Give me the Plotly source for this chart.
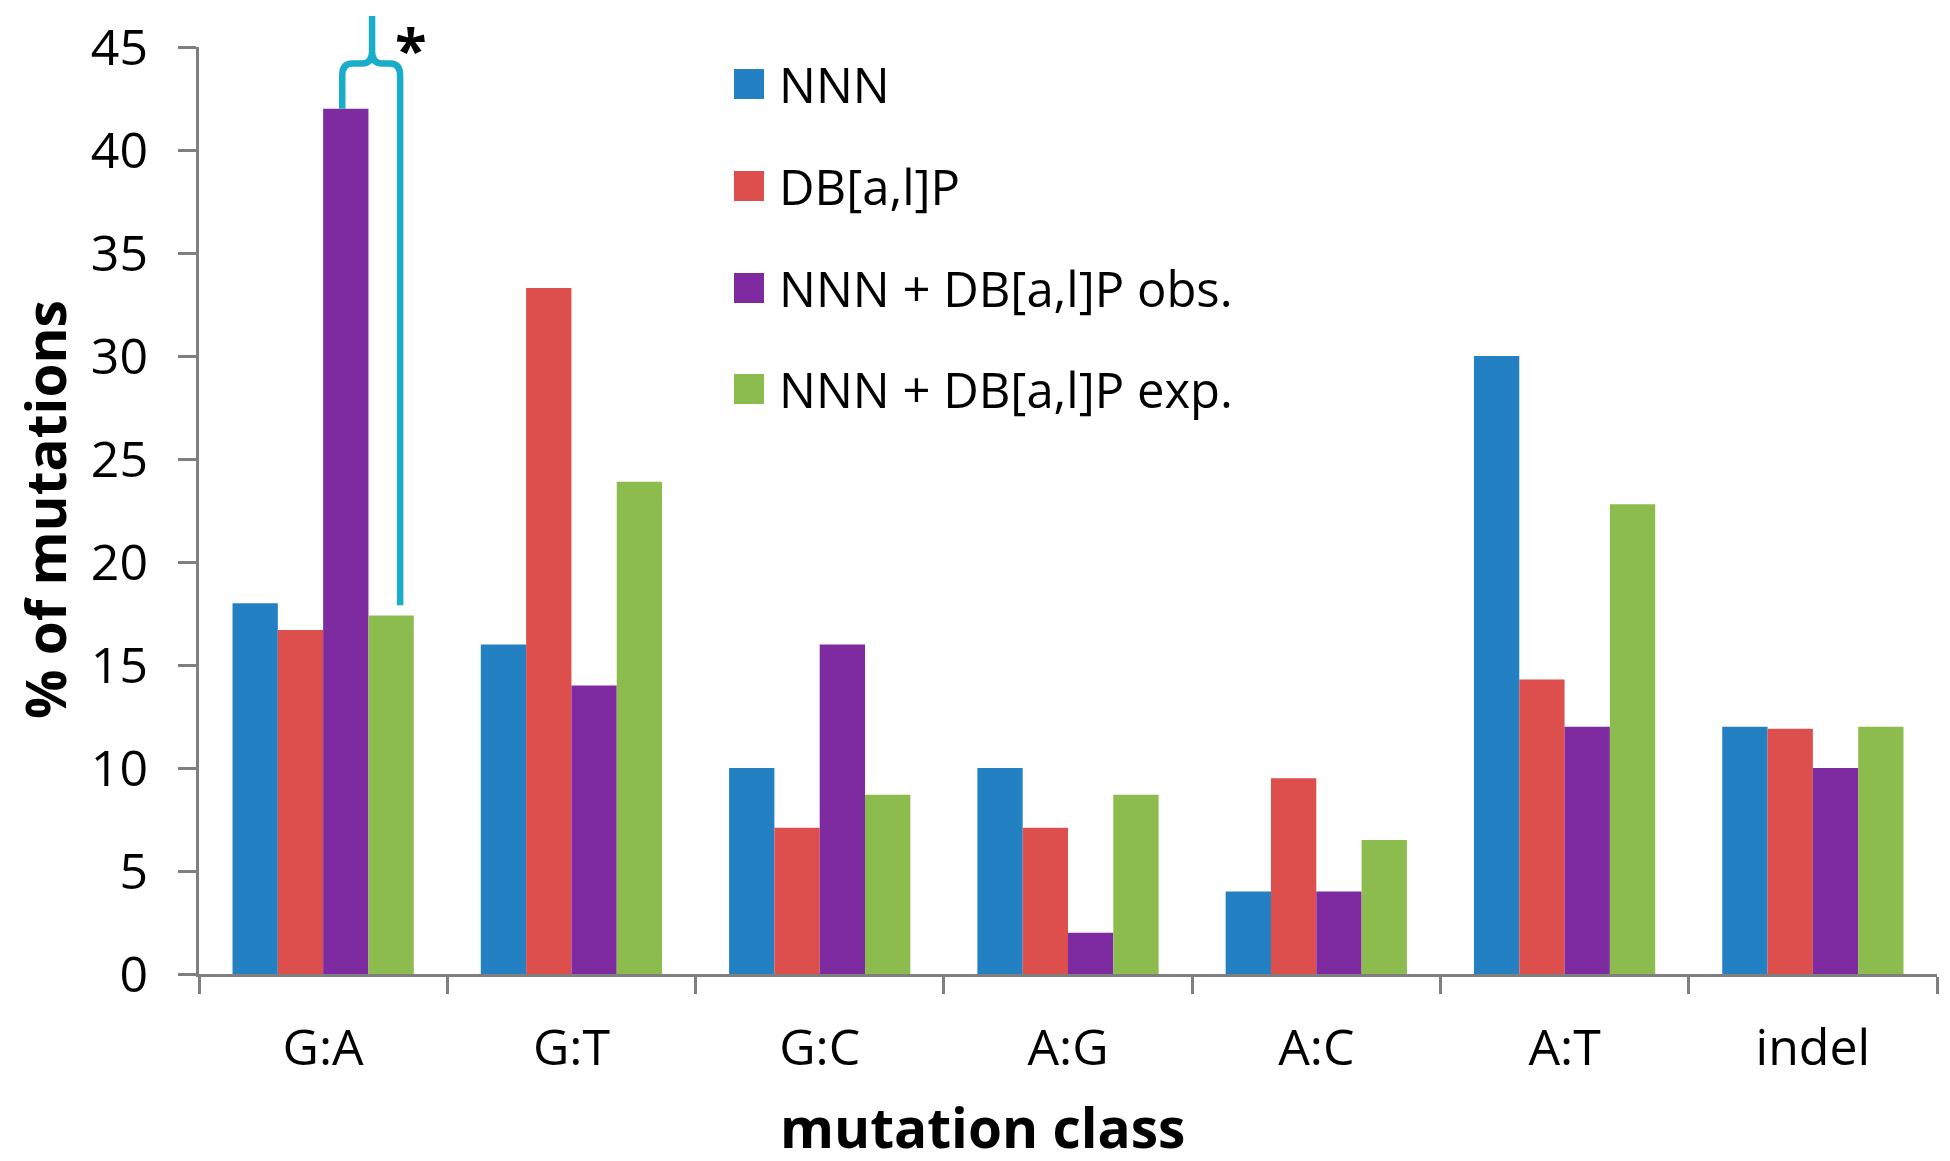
import plotly.graph_objects as go

# ---- data ----
categories = ["G:A", "G:T", "G:C", "A:G", "A:C", "A:T", "indel"]
series_names = ["NNN", "DB[a,l]P", "NNN + DB[a,l]P obs.", "NNN + DB[a,l]P exp."]
nnn = [18.0, 16.0, 10.0, 10.0, 4.0, 30.0, 12.0]
dbalp = [16.7, 33.3, 7.1, 7.1, 9.5, 14.3, 11.9]
combo_obs = [42.0, 14.0, 16.0, 2.0, 4.0, 12.0, 10.0]
combo_exp = [17.4, 23.9, 8.7, 8.7, 6.5, 22.8, 12.0]
colors = ["#2380C2", "#DD4F4C", "#7E2AA1", "#8CBB4E"]
y_ticks = [0, 5, 10, 15, 20, 25, 30, 35, 40, 45]

series = [nnn, dbalp, combo_obs, combo_exp]

# ---- layout geometry ----
W, H = 1950, 1161
OFF = 8  # page body margin offset of the figure on screen
ML, MR, MT, MB = 191, 21, 39, 195
PW, PH = W - ML - MR, H - MT - MB
YMAX = 45
FONT = "Open Sans"
AXC = "#7F7F7F"
BRACE_C = "#1AADC9"


def px(x):
    """screen x (px) -> paper x"""
    return (x - OFF - ML) / PW


def py(y):
    """screen y (px) -> paper y"""
    return (H - MB - (y - OFF)) / PH


fig = go.Figure()
for name, vals, col in zip(series_names, series, colors):
    fig.add_trace(go.Bar(x=categories, y=vals, name=name,
                         marker=dict(color=col, line=dict(width=0)),
                         showlegend=False))

# ---- significance brace between G:A obs and exp ----
gi = 0  # index of G:A
xl, xc, xr = gi + 0.077, gi + 0.197, gi + 0.31
yb_l = combo_obs[gi] / YMAX
yb_r = (combo_exp[gi] + 0.5) / YMAX
h = 44.2 / YMAX
top = 46.5 / YMAX
ry = 12 / PH
rx = 0.04
path = (f"M{xl},{yb_l} L{xl},{h-ry} Q{xl},{h} {xl+rx},{h} L{xc-rx},{h} "
        f"Q{xc},{h} {xc},{h+ry} L{xc},{top} "
        f"M{xc},{h+ry} Q{xc},{h} {xc+rx},{h} L{xr-rx},{h} "
        f"Q{xr},{h} {xr},{h-ry} L{xr},{yb_r}")
shapes = [dict(type="path", xref="x", yref="paper", path=path,
               line=dict(color=BRACE_C, width=6.5))]

annotations = [
    dict(x=gi + 0.355, y=py(OFF), xref="x", yref="paper", text="<b>*</b>",
         showarrow=False, borderpad=0,
         font=dict(family=FONT, size=58, color="black"),
         xanchor="center", yanchor="top"),
    # axis titles
    dict(x=px(44), y=py(510), xref="paper", yref="paper",
         text="<b>% of mutations</b>", textangle=-90, showarrow=False,
         borderpad=0, font=dict(family=FONT, size=55, color="black"),
         xanchor="center", yanchor="middle"),
    dict(x=px(982), y=py(1126), xref="paper", yref="paper",
         text="<b>mutation class</b>", showarrow=False, borderpad=0,
         font=dict(family=FONT, size=55, color="black"),
         xanchor="center", yanchor="middle"),
]

# ---- manual legend (large square swatches) ----
leg_y = [84, 186, 288, 389]
for name, col, ly in zip(series_names, colors, leg_y):
    shapes.append(dict(type="rect", xref="paper", yref="paper",
                       x0=px(734), x1=px(764), y0=py(ly + 15), y1=py(ly - 15),
                       fillcolor=col, line=dict(width=0)))
    annotations.append(dict(x=px(777), y=py(ly), xref="paper", yref="paper",
                            text=name, showarrow=False, xanchor="left",
                            yanchor="middle",
                            font=dict(family=FONT, size=49, color="black")))

fig.update_layout(
    width=W, height=H,
    margin=dict(l=ML, r=MR, t=MT, b=MB, autoexpand=False),
    paper_bgcolor="white", plot_bgcolor="white",
    barmode="group", bargap=0.27, bargroupgap=0,
    font=dict(family=FONT, size=50, color="black"),
    shapes=shapes, annotations=annotations,
    showlegend=False,
    xaxis=dict(type="category", showline=True, linecolor=AXC, linewidth=3,
               ticks="outside", tickson="boundaries", ticklen=17,
               tickwidth=3, tickcolor=AXC, showgrid=False, zeroline=False,
               automargin=False,
               tickfont=dict(family=FONT, size=50, color="black"),
               ticklabelstandoff=28),
    yaxis=dict(range=[0, YMAX], tickvals=y_ticks, showline=True,
               linecolor=AXC, linewidth=3, ticks="outside", ticklen=18,
               tickwidth=3, tickcolor=AXC, showgrid=False, zeroline=False,
               automargin=False,
               tickfont=dict(family=FONT, size=50, color="black"),
               ticklabelstandoff=20),
)

fig.write_html("out.html")
